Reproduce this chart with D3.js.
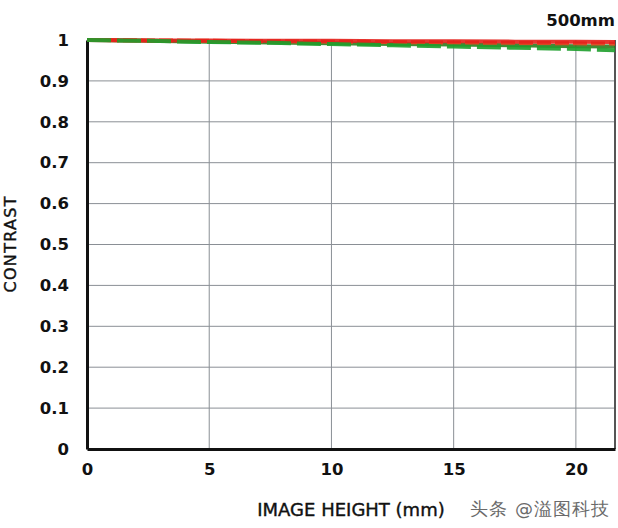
<!DOCTYPE html>
<html lang="en">
<head>
<meta charset="utf-8" />
<title>MTF 500mm</title>
<script src="https://cdn.jsdelivr.net/npm/d3@7/dist/d3.min.js"></script>
<style>
    body { margin: 0; background: #fff; }
    text { font-family: "DejaVu Sans", sans-serif; }
</style>
</head>
<body>
<div id="chart"></div>
<script>
    // image height positions (mm)
    var heights = [0, 2.5, 5, 7.5, 10, 12.5, 15, 17.5, 20, 21.6];
    // contrast values
    var redSolid   = [1.000, 0.999, 0.999, 0.998, 0.998, 0.997, 0.997, 0.996, 0.996, 0.995];
    var redDashed  = [1.000, 0.999, 0.998, 0.997, 0.996, 0.995, 0.994, 0.993, 0.992, 0.991];
    var greenSolid = [1.000, 0.998, 0.996, 0.994, 0.992, 0.990, 0.989, 0.987, 0.985, 0.984];
    var greenDashed = [1.000, 0.998, 0.995, 0.993, 0.990, 0.987, 0.984, 0.981, 0.978, 0.975];
    var xTicks = [0, 5, 10, 15, 20];
    var yTicks = [0, 0.1, 0.2, 0.3, 0.4, 0.5, 0.6, 0.7, 0.8, 0.9, 1];

    var width = 618, height = 528;
    var margin = { left: 87, right: 3, top: 40, bottom: 79 };

    var svg = d3.select("#chart").append("svg")
        .attr("width", width)
        .attr("height", height);

    var x = d3.scaleLinear().domain([0, 21.6]).range([margin.left, width - margin.right]);
    var y = d3.scaleLinear().domain([0, 1]).range([height - margin.bottom, margin.top]);

    // grid
    svg.append("g").selectAll("line")
        .data(xTicks.filter(function (d) { return d > 0; }))
        .enter().append("line")
        .attr("x1", function (d) { return x(d); })
        .attr("x2", function (d) { return x(d); })
        .attr("y1", y(0)).attr("y2", y(1))
        .attr("stroke", "#8a8f95").attr("stroke-width", 1);

    svg.append("g").selectAll("line")
        .data(yTicks.filter(function (d) { return d > 0 && d < 1; }))
        .enter().append("line")
        .attr("x1", x(0)).attr("x2", x(21.6))
        .attr("y1", function (d) { return y(d); })
        .attr("y2", function (d) { return y(d); })
        .attr("stroke", "#8a8f95").attr("stroke-width", 1);

    // frame
    svg.append("line")
        .attr("x1", x(21.6)).attr("x2", x(21.6))
        .attr("y1", y(0)).attr("y2", y(1))
        .attr("stroke", "#555").attr("stroke-width", 2);

    // axes
    var xAxis = svg.append("g")
        .attr("transform", "translate(0," + y(0) + ")")
        .call(d3.axisBottom(x).tickValues(xTicks).tickSize(0).tickPadding(14).tickFormat(d3.format("d")));
    var yAxis = svg.append("g")
        .attr("transform", "translate(" + x(0) + ",0)")
        .call(d3.axisLeft(y).tickValues(yTicks).tickSize(0).tickPadding(18).tickFormat(function (d) { return d === 0 || d === 1 ? d : d3.format(".1f")(d); }));

    [xAxis, yAxis].forEach(function (a) {
        a.select(".domain").attr("stroke", "#111").attr("stroke-width", 3);
        a.selectAll("text")
            .attr("font-family", "DejaVu Sans, sans-serif")
            .attr("font-size", 16.5)
            .attr("font-weight", "bold")
            .attr("fill", "#111");
    });

    // curves
    var line = d3.line()
        .x(function (d, i) { return x(heights[i]); })
        .y(function (d) { return y(d); });

    var series = [
        { values: greenSolid, color: "#2f7d1f", dash: null },
        { values: redDashed, color: "#e8421e", dash: "14,4" },
        { values: redSolid, color: "#e3201b", dash: null },
        { values: greenDashed, color: "#1e9e2c", dash: "24,6" }
    ];

    svg.append("g").selectAll("path")
        .data(series)
        .enter().append("path")
        .attr("d", function (d) { return line(d.values); })
        .attr("fill", "none")
        .attr("stroke", function (d) { return d.color; })
        .attr("stroke-width", 4)
        .attr("stroke-dasharray", function (d) { return d.dash; })
        .attr("opacity", 0.9);

    // labels
    svg.append("text")
        .attr("x", 615).attr("y", 26)
        .attr("text-anchor", "end")
        .attr("font-size", 16.5).attr("font-weight", "bold")
        .attr("fill", "#111")
        .text("500mm");

    svg.append("text")
        .attr("transform", "translate(16," + y(0.5) + ") rotate(-90)")
        .attr("text-anchor", "middle")
        .attr("font-size", 16)
        .attr("fill", "#111")
        .attr("stroke", "#111").attr("stroke-width", 0.4)
        .attr("font-family", "Liberation Sans Narrow, Liberation Sans, sans-serif")
        .attr("textLength", 96)
        .text("CONTRAST");

    svg.append("text")
        .attr("x", 351).attr("y", 516)
        .attr("text-anchor", "middle")
        .attr("font-size", 18)
        .attr("fill", "#111")
        .attr("stroke", "#111").attr("stroke-width", 0.4)
        .attr("font-family", "Liberation Sans, sans-serif")
        .text("IMAGE HEIGHT (mm)");

    svg.append("text")
        .attr("x", 610).attr("y", 515)
        .attr("text-anchor", "end")
        .attr("font-size", 18)
        .attr("letter-spacing", 1)
        .attr("fill", "#6a6a6a")
        .attr("font-family", "Noto Sans CJK SC, sans-serif")
        .text("头条 @溢图科技");
</script>
</body>
</html>
